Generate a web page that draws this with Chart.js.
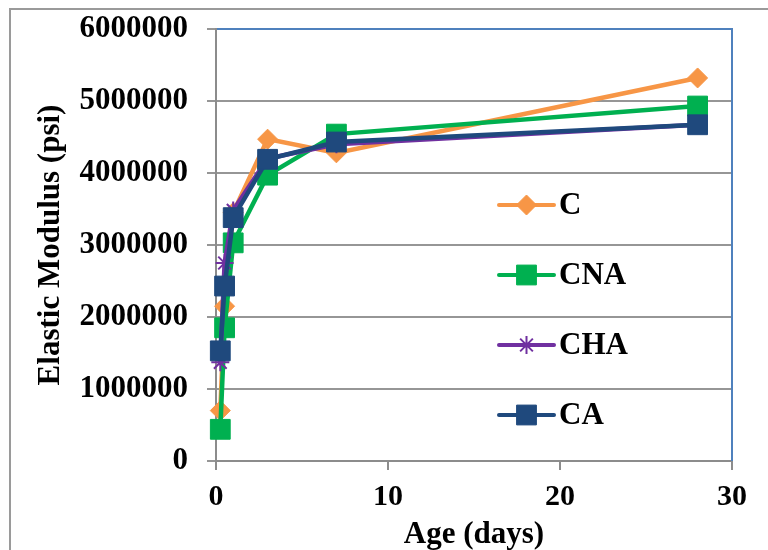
<!DOCTYPE html>
<html>
<head>
<meta charset="utf-8">
<script src="https://cdn.jsdelivr.net/npm/chart.js@4.4.1/dist/chart.umd.min.js"></script>
<style>
  html, body { margin: 0; padding: 0; background: #fff; }
  #wrap { width: 768px; height: 550px; }
</style>
</head>
<body>
<div id="wrap"><canvas id="graficoModulo" width="768" height="550"></canvas></div>
<script>
// idade dos corpos de prova (dias)
const idades = [0.25, 0.5, 1, 3, 7, 28]

const serieC   = [700000, 2150000, 3450000, 4470000, 4280000, 5320000]
const serieCNA = [440000, 1850000, 3030000, 3970000, 4540000, 4930000]
const serieCHA = [1370000, 2750000, 3480000, 4200000, 4400000, 4670000]
const serieCA  = [1530000, 2430000, 3380000, 4190000, 4430000, 4670000]

const nomes = ['C', 'CNA', 'CHA', 'CA']
const ticksY = [0, 1000000, 2000000, 3000000, 4000000, 5000000, 6000000]
const ticksX = [0, 10, 20, 30]

const fonte = 'Liberation Serif'

function pontos(valores){
    return idades.map((x, i) => ({ x: x, y: valores[i] }))
}

function serie(nome, valores, cor, estilo, raio, ordem){
    return {
        label: nome,
        data: pontos(valores),
        borderColor: cor,
        backgroundColor: cor,
        borderWidth: 4.5,
        pointStyle: estilo,
        pointRadius: raio,
        pointBorderColor: cor,
        pointBackgroundColor: cor,
        pointBorderWidth: estilo === 'star' ? 2 : 1,
        tension: 0,
        clip: false,
        order: ordem
    }
}

// moldura externa e borda azul da area do grafico
const moldura = {
    id: 'moldura',
    beforeDraw(chart){
        const ctx = chart.ctx
        ctx.save()
        ctx.strokeStyle = '#9a9a9a'
        ctx.lineWidth = 2
        ctx.beginPath()
        ctx.moveTo(10, 550)
        ctx.lineTo(10, 9)
        ctx.lineTo(768, 9)
        ctx.stroke()
        ctx.restore()
    },
    beforeDatasetsDraw(chart){
        const a = chart.chartArea
        const ctx = chart.ctx
        ctx.save()
        ctx.strokeStyle = '#4f81bd'
        ctx.lineWidth = 2
        ctx.beginPath()
        ctx.moveTo(a.left + 1, a.top)
        ctx.lineTo(a.right, a.top)
        ctx.lineTo(a.right, a.bottom)
        ctx.stroke()
        ctx.restore()
    }
}

// legenda dentro da area do grafico
const legenda = {
    id: 'legenda',
    afterDatasetsDraw(chart){
        const ctx = chart.ctx
        const x0 = 499, x1 = 554
        ctx.save()
        chart.data.datasets.forEach((ds, i) => {
            const y = 205 + i * 70
            ctx.strokeStyle = ds.borderColor
            ctx.lineWidth = 4
            ctx.lineCap = 'round'
            ctx.beginPath()
            ctx.moveTo(x0, y)
            ctx.lineTo(x1, y)
            ctx.stroke()
            ctx.lineCap = 'butt'
            ctx.fillStyle = ds.pointBackgroundColor
            ctx.strokeStyle = ds.pointBorderColor
            ctx.lineWidth = ds.pointBorderWidth
            Chart.helpers.drawPoint(ctx, { pointStyle: ds.pointStyle, radius: ds.pointRadius, borderWidth: ds.pointBorderWidth }, (x0 + x1) / 2, y)
            ctx.fillStyle = '#000'
            ctx.font = 'bold 31px "' + fonte + '"'
            ctx.textAlign = 'left'
            ctx.textBaseline = 'middle'
            ctx.fillText(ds.label, 559, y + 1)
        })
        ctx.restore()
    }
}

const graficoModulo = new Chart(document.getElementById('graficoModulo'), {
    type: 'line',
    data: {
        datasets: [
            serie(nomes[0], serieC, '#f79646', 'rectRot', 10, 4),
            serie(nomes[1], serieCNA, '#00b050', 'rect', 14, 3),
            serie(nomes[2], serieCHA, '#7030a0', 'star', 9, 2),
            serie(nomes[3], serieCA, '#1f497d', 'rect', 14, 1)
        ]
    },
    options: {
        responsive: false,
        animation: false,
        layout: { padding: { left: 0, top: 29, right: 36, bottom: 0 } },
        plugins: {
            legend: { display: false },
            tooltip: { enabled: false }
        },
        scales: {
            x: {
                type: 'linear',
                min: 0,
                max: 30,
                afterBuildTicks: s => { s.ticks = ticksX.map(v => ({ value: v })) },
                afterFit: s => { s.height = 89; s.paddingLeft = 0; s.paddingRight = 0 },
                border: { color: '#8c8c8c', width: 2 },
                grid: { drawOnChartArea: false, color: '#8c8c8c', lineWidth: 2, tickLength: 9 },
                ticks: {
                    color: '#000',
                    padding: 9,
                    maxRotation: 0,
                    font: { family: fonte, size: 30, weight: 'bold' }
                },
                title: {
                    display: true,
                    text: 'Age (days)',
                    color: '#000',
                    padding: { top: 0, bottom: -4 },
                    font: { family: fonte, size: 31, weight: 'bold' }
                }
            },
            y: {
                min: 0,
                max: 6000000,
                afterBuildTicks: s => { s.ticks = ticksY.map(v => ({ value: v })) },
                afterFit: s => { s.width = 216; s.paddingTop = 0; s.paddingBottom = 0 },
                border: { color: '#8c8c8c', width: 2 },
                grid: { color: '#969696', lineWidth: 2, tickLength: 9 },
                ticks: {
                    color: '#000',
                    padding: 19,
                    callback: v => String(v),
                    font: { family: fonte, size: 31, weight: 'bold' }
                },
                title: {
                    display: true,
                    text: 'Elastic Modulus (psi)',
                    color: '#000',
                    padding: { top: 32, bottom: 0 },
                    font: { family: fonte, size: 31, weight: 'bold' }
                }
            }
        }
    },
    plugins: [moldura, legenda]
})
</script>
</body>
</html>
